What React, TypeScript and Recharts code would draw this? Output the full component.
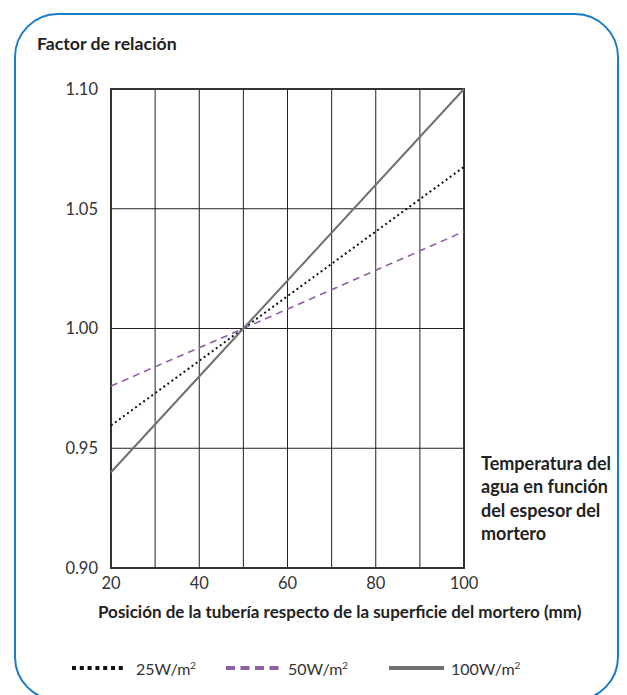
import React from 'react';
import { LineChart, Line, XAxis, YAxis, CartesianGrid, ReferenceArea } from 'recharts';

const positions = [20, 50, 100];
const w25 = [0.9595, 1.0, 1.0675];
const w50 = [0.976, 1.0, 1.0405];
const w100 = [0.94, 1.0, 1.1];
const xTicks = [20, 30, 40, 50, 60, 70, 80, 90, 100];
const yTicks = [0.9, 0.95, 1.0, 1.05, 1.1];

const data = positions.map((p, i) => ({ x: p, a: w25[i], b: w50[i], c: w100[i] }));

const FONT = 'Lato, "Open Sans", sans-serif';

const legendText: React.CSSProperties = { position: 'absolute', top: 659, fontSize: 16, color: '#333', whiteSpace: 'nowrap' };

export default function App() {
  return (
    <div style={{ position: 'absolute', left: 0, top: 0, width: 627, height: 695, overflow: 'hidden', background: '#fff', fontFamily: FONT }}>
      <div style={{ position: 'absolute', left: 14, top: 13, width: 605, height: 688, border: '2.5px solid #1a7dc4', borderRadius: 44, boxSizing: 'border-box' }} />
      <div style={{ position: 'absolute', left: 37, top: 33, fontSize: 17.7, fontWeight: 700, color: '#222', whiteSpace: 'nowrap' }}>Factor de relación</div>
      <div style={{ position: 'absolute', left: 0, top: 0 }}>
        <LineChart width={627} height={695} data={data} margin={{ top: 89, right: 163, bottom: 97, left: 51 }}>
          <CartesianGrid stroke="#222" strokeWidth={1} />
          <XAxis
            dataKey="x"
            type="number"
            domain={[20, 100]}
            ticks={xTicks}
            tickFormatter={(v: number) => (v % 20 === 0 ? String(v) : '')}
            tickLine={false}
            axisLine={false}
            height={30}
            tick={{ fill: '#333', fontSize: 16.5, fontFamily: FONT }}
            tickSize={6}
            tickMargin={3}
            interval={0}
          />
          <YAxis
            type="number"
            domain={[0.9, 1.1]}
            ticks={yTicks}
            tickFormatter={(v: number) => v.toFixed(2)}
            tickLine={false}
            axisLine={false}
            width={60}
            tick={{ fill: '#333', fontSize: 16.5, fontFamily: FONT }}
            tickSize={6}
            tickMargin={7}
            interval={0}
          />
          <ReferenceArea x1={20} x2={100} y1={0.9} y2={1.1} fill="none" stroke="#333" strokeWidth={2} ifOverflow="visible" />
          <Line dataKey="b" type="linear" stroke="#8e5fa3" strokeWidth={1.6} strokeDasharray="7 5" dot={false} isAnimationActive={false} />
          <Line dataKey="a" type="linear" stroke="#111" strokeWidth={2} strokeDasharray="2 3" dot={false} isAnimationActive={false} />
          <Line dataKey="c" type="linear" stroke="#707070" strokeWidth={2} dot={false} isAnimationActive={false} />
        </LineChart>
      </div>
      <div style={{ position: 'absolute', left: 481, top: 452, fontSize: 18, fontWeight: 700, color: '#222', lineHeight: '23.3px', whiteSpace: 'nowrap' }}>
        Temperatura del<br />agua en función<br />del espesor del<br />mortero
      </div>
      <div style={{ position: 'absolute', left: 98, top: 601, fontSize: 17, fontWeight: 700, color: '#222', whiteSpace: 'nowrap' }}>
        Posición de la tubería respecto de la superficie del mortero (mm)
      </div>
      <svg style={{ position: 'absolute', left: 72, top: 664 }} width={53} height={8}>
        <line x1={0} y1={4} x2={53} y2={4} stroke="#111" strokeWidth={4} strokeDasharray="4 3.8" />
      </svg>
      <span style={{ ...legendText, left: 136 }}>25W/m<sup style={{ fontSize: 10 }}>2</sup></span>
      <svg style={{ position: 'absolute', left: 226, top: 664 }} width={53} height={8}>
        <line x1={0} y1={4} x2={53} y2={4} stroke="#8e5fa3" strokeWidth={4} strokeDasharray="9 5.5" />
      </svg>
      <span style={{ ...legendText, left: 288 }}>50W/m<sup style={{ fontSize: 10 }}>2</sup></span>
      <svg style={{ position: 'absolute', left: 389, top: 664 }} width={55} height={8}>
        <line x1={0} y1={4} x2={55} y2={4} stroke="#707070" strokeWidth={4} />
      </svg>
      <span style={{ ...legendText, left: 451 }}>100W/m<sup style={{ fontSize: 10 }}>2</sup></span>
    </div>
  );
}
